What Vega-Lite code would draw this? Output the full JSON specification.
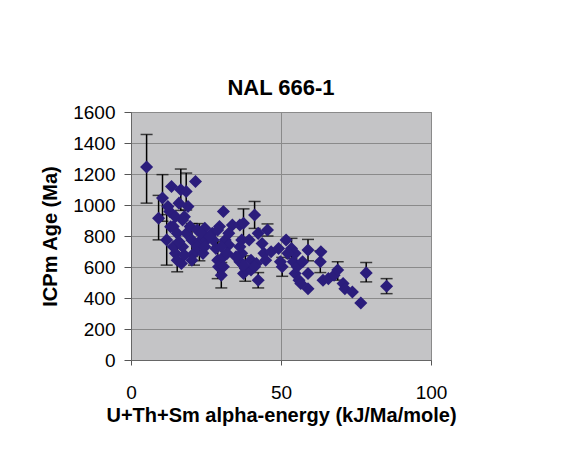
{
  "$schema": "https://vega.github.io/schema/vega-lite/v6.json",
  "width": 300,
  "height": 248,
  "autosize": "none",
  "padding": {"left": 131, "top": 112, "right": 148, "bottom": 110},
  "background": "white",
  "title": {"text": "NAL 666-1", "font": "Liberation Sans", "fontSize": 22, "fontWeight": "bold", "color": "black", "offset": 3, "anchor": "middle"},
  "config": {
    "view": {"fill": "#c4c4c6", "stroke": "#8a8a8a", "strokeWidth": 1},
    "axisY": {"values": [0, 200, 400, 600, 800, 1000, 1200, 1400, 1600], "format": "d", "tickSize": 7, "tickColor": "#555555", "domainColor": "#666666", "labelPadding": 9, "labelFont": "Liberation Sans", "labelFontSize": 19, "labelColor": "black", "labelFlush": false, "labelOverlap": false, "grid": true, "gridColor": "#8a8a8a", "gridWidth": 1, "titleFont": "Liberation Sans", "titleFontSize": 20, "titleFontWeight": "bold", "titleColor": "black", "titlePadding": 12}
  },
  "data": {"values": [
    {"x": 5.2, "y": 1245, "lo": 1012, "hi": 1455},
    {"x": 9.2, "y": 915, "lo": 775, "hi": 1062},
    {"x": 10.5, "y": 1045, "lo": 895, "hi": 1196},
    {"x": 11.9, "y": 775, "lo": 612, "hi": 938},
    {"x": 13.5, "y": 1120},
    {"x": 12.9, "y": 958},
    {"x": 13.2, "y": 860},
    {"x": 16.6, "y": 1098, "lo": 965, "hi": 1232},
    {"x": 16.0, "y": 1012},
    {"x": 18.4, "y": 1087, "lo": 968, "hi": 1206},
    {"x": 21.5, "y": 1152},
    {"x": 17.8, "y": 925},
    {"x": 19.0, "y": 990},
    {"x": 14.8, "y": 688},
    {"x": 14.1, "y": 731},
    {"x": 15.4, "y": 644, "lo": 569, "hi": 719},
    {"x": 16.8, "y": 623},
    {"x": 17.2, "y": 731},
    {"x": 18.5, "y": 817},
    {"x": 20.3, "y": 774, "lo": 668, "hi": 880},
    {"x": 19.7, "y": 861},
    {"x": 21.0, "y": 688, "lo": 612, "hi": 764},
    {"x": 22.8, "y": 763, "lo": 640, "hi": 880},
    {"x": 24.0, "y": 688},
    {"x": 22.1, "y": 839},
    {"x": 24.6, "y": 850},
    {"x": 27.1, "y": 817},
    {"x": 28.3, "y": 720},
    {"x": 28.9, "y": 644, "lo": 525, "hi": 763},
    {"x": 29.2, "y": 601},
    {"x": 30.1, "y": 547, "lo": 465, "hi": 629},
    {"x": 30.8, "y": 958},
    {"x": 29.5, "y": 861},
    {"x": 31.4, "y": 774},
    {"x": 30.8, "y": 666},
    {"x": 32.6, "y": 742},
    {"x": 33.8, "y": 871},
    {"x": 36.3, "y": 871},
    {"x": 36.9, "y": 774},
    {"x": 37.5, "y": 882, "lo": 789, "hi": 975},
    {"x": 36.9, "y": 688},
    {"x": 36.3, "y": 634},
    {"x": 37.5, "y": 558},
    {"x": 38.1, "y": 590, "lo": 508, "hi": 672},
    {"x": 39.4, "y": 774},
    {"x": 40.0, "y": 644},
    {"x": 41.2, "y": 936, "lo": 849, "hi": 1023},
    {"x": 42.4, "y": 817},
    {"x": 41.8, "y": 623},
    {"x": 42.4, "y": 515, "lo": 465, "hi": 564},
    {"x": 44.3, "y": 688},
    {"x": 45.5, "y": 839, "lo": 800, "hi": 878},
    {"x": 46.7, "y": 698},
    {"x": 49.2, "y": 720},
    {"x": 50.4, "y": 601, "lo": 540, "hi": 662},
    {"x": 49.8, "y": 634},
    {"x": 51.7, "y": 774},
    {"x": 53.5, "y": 720, "lo": 655, "hi": 785},
    {"x": 54.1, "y": 634},
    {"x": 54.7, "y": 558},
    {"x": 56.0, "y": 515},
    {"x": 56.6, "y": 493},
    {"x": 55.4, "y": 601},
    {"x": 57.2, "y": 634},
    {"x": 59.0, "y": 709, "lo": 640, "hi": 778},
    {"x": 59.0, "y": 460},
    {"x": 59.0, "y": 558},
    {"x": 63.3, "y": 698},
    {"x": 63.1, "y": 634, "lo": 564, "hi": 704},
    {"x": 64.0, "y": 515},
    {"x": 65.8, "y": 525},
    {"x": 67.7, "y": 547},
    {"x": 68.9, "y": 580, "lo": 515, "hi": 634},
    {"x": 70.7, "y": 493},
    {"x": 71.3, "y": 460},
    {"x": 73.8, "y": 439},
    {"x": 76.6, "y": 368},
    {"x": 78.4, "y": 562, "lo": 504, "hi": 629},
    {"x": 85.2, "y": 476, "lo": 428, "hi": 525},
    {"x": 14.1, "y": 861},
    {"x": 15.4, "y": 817},
    {"x": 16.0, "y": 763},
    {"x": 17.8, "y": 677},
    {"x": 20.3, "y": 644},
    {"x": 23.4, "y": 817},
    {"x": 25.2, "y": 774},
    {"x": 27.4, "y": 774},
    {"x": 28.9, "y": 839},
    {"x": 32.6, "y": 817},
    {"x": 32.0, "y": 688},
    {"x": 36.3, "y": 731},
    {"x": 35.0, "y": 666},
    {"x": 40.0, "y": 580},
    {"x": 41.2, "y": 601},
    {"x": 43.7, "y": 752},
    {"x": 44.9, "y": 644},
    {"x": 54.7, "y": 688},
    {"x": 52.3, "y": 688},
    {"x": 12.3, "y": 990},
    {"x": 14.8, "y": 925},
    {"x": 17.2, "y": 904},
    {"x": 22.1, "y": 731},
    {"x": 24.6, "y": 731},
    {"x": 26.2, "y": 796},
    {"x": 30.1, "y": 731},
    {"x": 30.8, "y": 601},
    {"x": 37.5, "y": 612}
  ]},
  "encoding": {
    "x": {"field": "x", "type": "quantitative", "scale": {"domain": [0, 100], "nice": false},
      "axis": {"values": [0, 50, 100], "format": "d", "tickSize": 5, "tickColor": "#555555", "domainColor": "#666666", "labelPadding": 18, "labelFont": "Liberation Sans", "labelFontSize": 19, "labelColor": "black", "labelFlush": false, "labelOverlap": false, "grid": true, "gridColor": "#8a8a8a", "gridWidth": 1,
        "title": "U+Th+Sm alpha-energy (kJ/Ma/mole)", "titleFont": "Liberation Sans", "titleFontSize": 20, "titleFontWeight": "bold", "titleColor": "black", "titlePadding": 3}}
  },
  "layer": [
    {
      "transform": [{"filter": "isValid(datum.lo)"}],
      "mark": {"type": "rule", "color": "black", "strokeWidth": 1.5},
      "encoding": {
        "y": {"field": "lo", "type": "quantitative", "scale": {"domain": [0, 1600], "nice": false}, "title": "ICPm Age (Ma)"},
        "y2": {"field": "hi"}
      }
    },
    {
      "transform": [{"filter": "isValid(datum.lo)"}, {"fold": ["lo", "hi"], "as": ["end", "val"]}],
      "mark": {"type": "tick", "orient": "horizontal", "color": "black", "size": 12, "thickness": 1.5},
      "encoding": {
        "y": {"field": "val", "type": "quantitative", "scale": {"domain": [0, 1600], "nice": false}, "title": "ICPm Age (Ma)"}
      }
    },
    {
      "mark": {"type": "point", "shape": "diamond", "filled": true, "size": 170, "color": "#2b1d7c", "opacity": 1},
      "encoding": {
        "y": {"field": "y", "type": "quantitative", "scale": {"domain": [0, 1600], "nice": false}, "title": "ICPm Age (Ma)"}
      }
    }
  ]
}
